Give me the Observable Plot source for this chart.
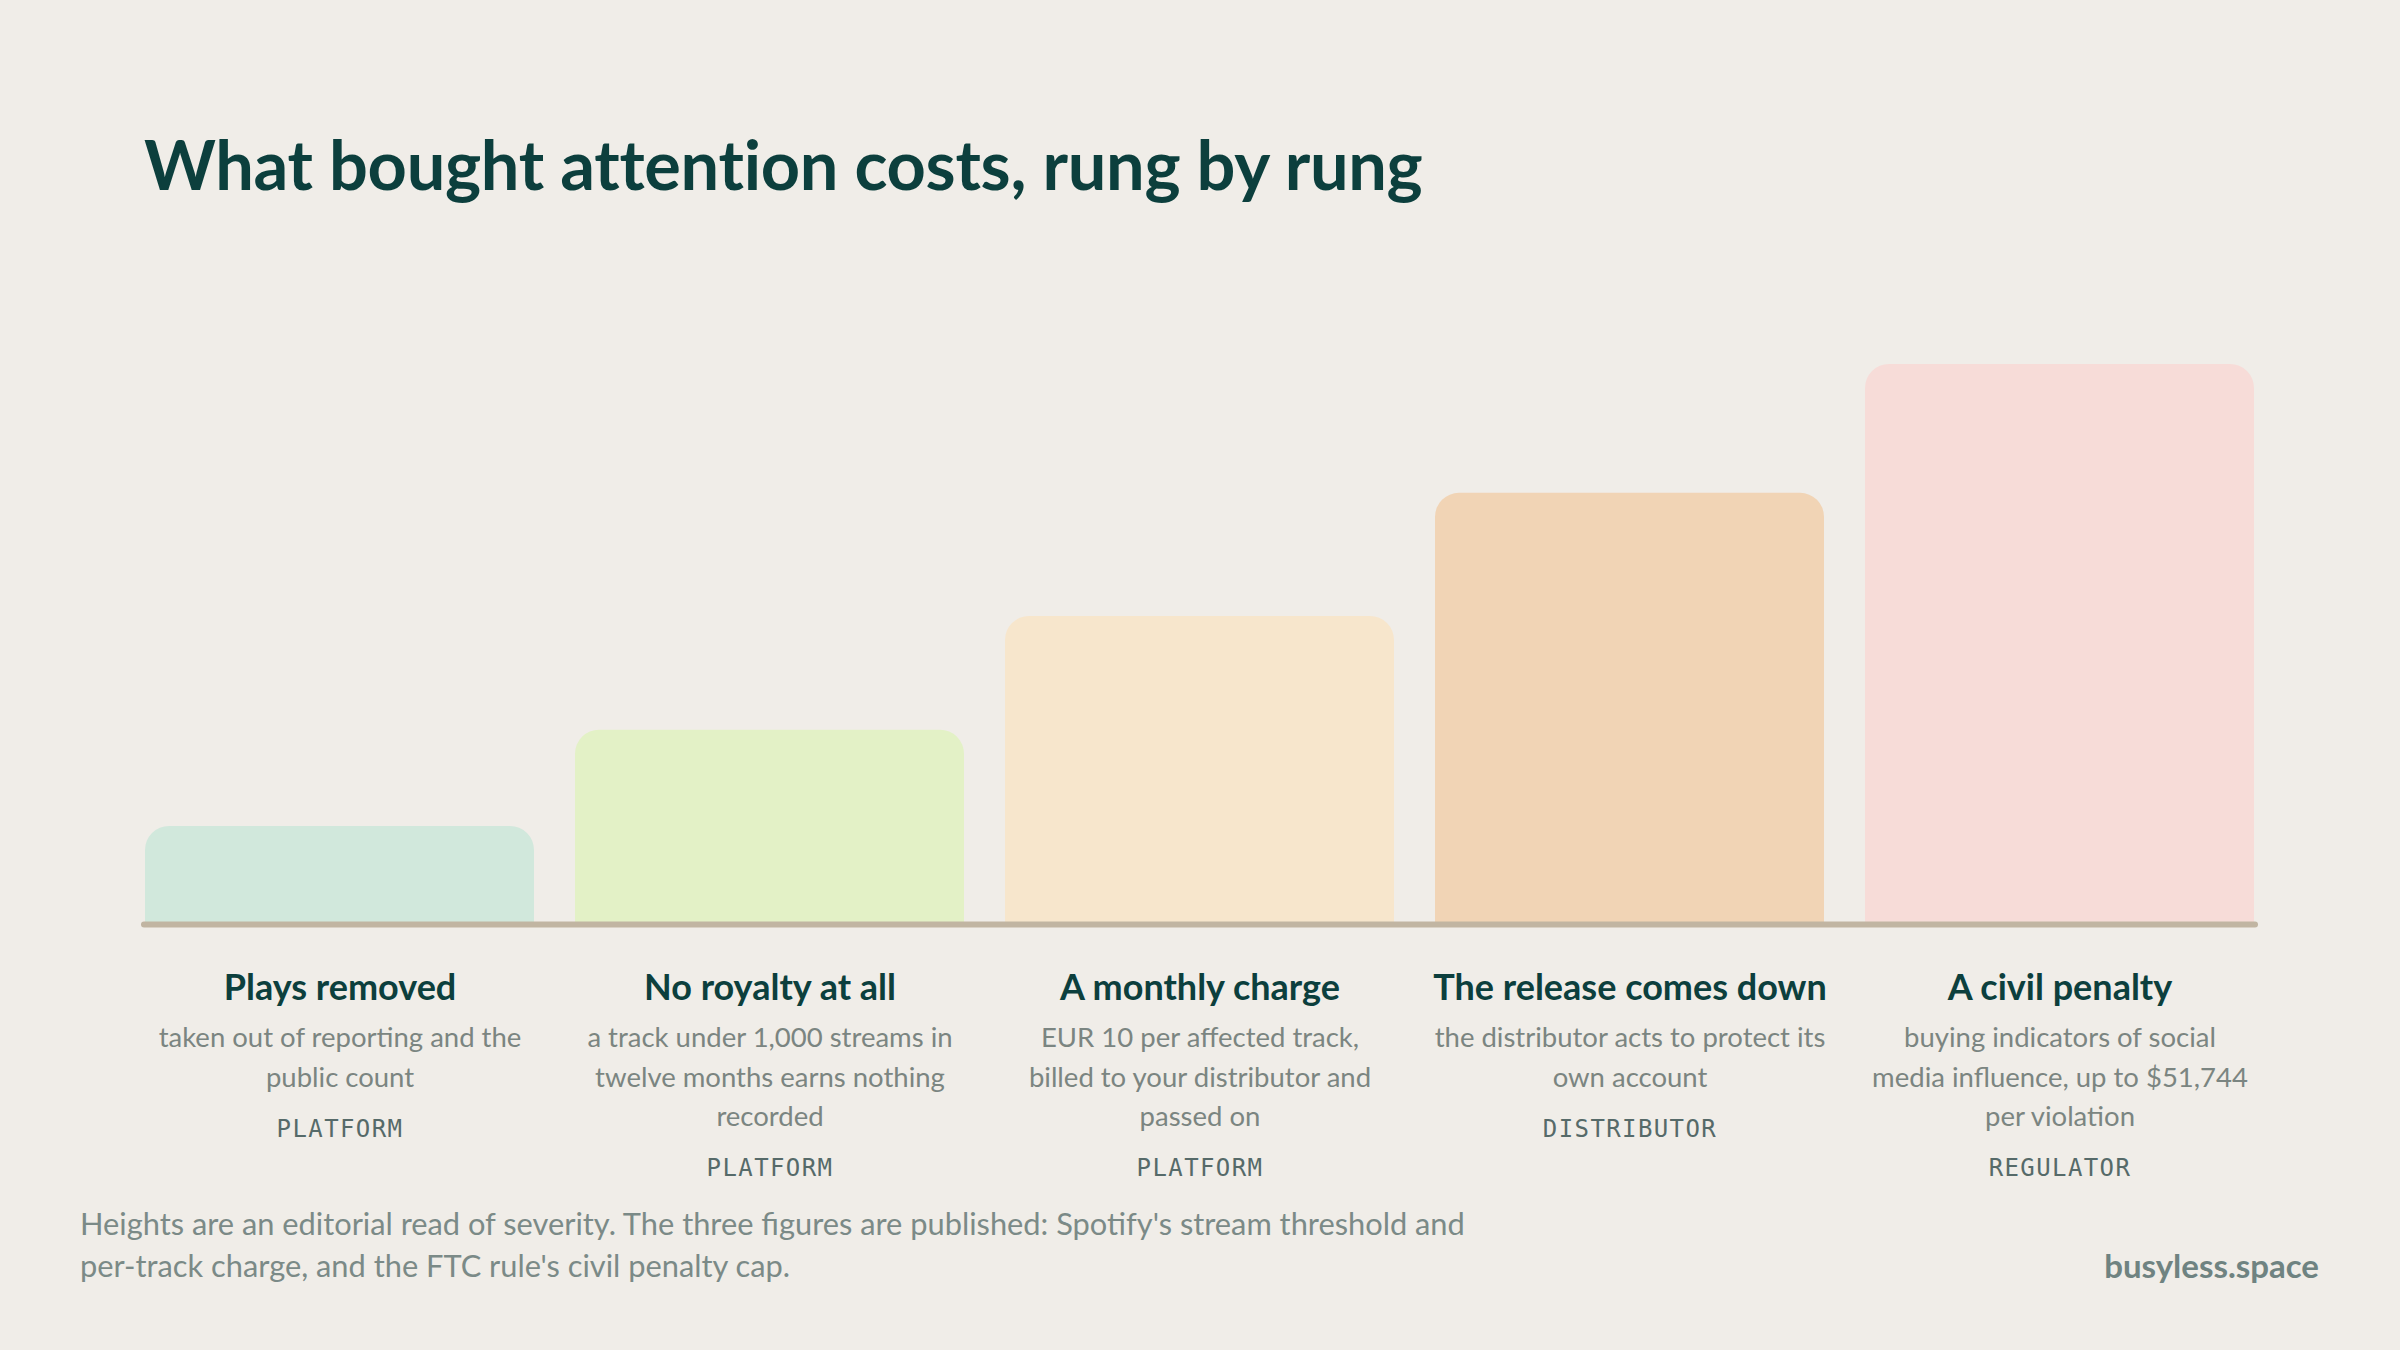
<!DOCTYPE html>
<html>
<head>
<meta charset="utf-8">
<script src="https://cdn.jsdelivr.net/npm/d3@7"></script>
<script src="https://cdn.jsdelivr.net/npm/@observablehq/plot@0.6"></script>
<style>
  html, body { margin: 0; padding: 0; background: #f0ede8; }
  body { width: 2400px; height: 1350px; position: relative; overflow: hidden; font-family: Lato, "Noto Sans", sans-serif; }
  #title { position: absolute; left: 144px; top: 122px; margin: 0; font-size: 68.5px; line-height: 84px; font-weight: 700; color: #0c3f3d; letter-spacing: -0.3px; }
  #chart { position: absolute; left: 0; top: 230px; }
  #note { position: absolute; left: 80px; top: 1203px; font-size: 30.8px; line-height: 42px; color: #7b8a87; }
  #brand { position: absolute; right: 81px; top: 1244px; font-size: 33px; line-height: 42px; font-weight: 700; color: #6f8381; }
  g[font-family*="Mono"] text { letter-spacing: 1.4px; }
</style>
</head>
<body>
<h1 id="title">What bought attention costs, rung by rung</h1>
<div id="chart"></div>
<div id="note">Heights are an editorial read of severity. The three figures are published: Spotify's stream threshold and<br>per-track charge, and the FTC rule's civil penalty cap.</div>
<div id="brand">busyless.space</div>
<script>
const labels = ["Plays removed", "No royalty at all", "A monthly charge", "The release comes down", "A civil penalty"];
const severity = [17.5, 34.7, 55, 77, 100];
const details = [
  "taken out of reporting and the\npublic count",
  "a track under 1,000 streams in\ntwelve months earns nothing\nrecorded",
  "EUR 10 per affected track,\nbilled to your distributor and\npassed on",
  "the distributor acts to protect its\nown account",
  "buying indicators of social\nmedia influence, up to $51,744\nper violation"
];
const actors = ["PLATFORM", "PLATFORM", "PLATFORM", "DISTRIBUTOR", "REGULATOR"];
const colors = ["#d1e8dc", "#e3f1c6", "#f7e6cc", "#f1d4b5", "#f7dcd8"];

const data = labels.map((label, i) => ({
  label, value: severity[i], detail: details[i], actor: actors[i],
  lines: details[i].split("\n").length
}));

const plot = Plot.plot({
  width: 2400,
  height: 960,
  marginLeft: 144,
  marginRight: 145,
  marginTop: 134,
  marginBottom: 266,
  style: { background: "transparent", overflow: "visible" },
  x: { domain: labels, paddingInner: 0.095, paddingOuter: 0, axis: null },
  y: { domain: [0, 100], axis: null },
  color: { domain: labels, range: colors },
  marks: [
    Plot.barY(data, { x: "label", y: "value", fill: "label", rx: 24 }),
    Plot.barY(data, { x: "label", y1: 0, y2: d => d.value / 2, fill: "label" }),
    Plot.ruleY([0], { stroke: "#c1b5a2", strokeWidth: 6, strokeLinecap: "round" }),
    Plot.text(data, { x: "label", frameAnchor: "bottom", text: "label", dy: 75, fontSize: 36, fontWeight: 700, fill: "#0c3f3d", fontFamily: "Lato, sans-serif" }),
    Plot.text(data, { x: "label", frameAnchor: "bottom", text: "detail", dy: 95, lineAnchor: "top", lineHeight: 1.43, fontSize: 27.5, fill: "#7b8581", fontFamily: "Lato, sans-serif" }),
    Plot.text(data.filter(d => d.lines === 2), { x: "label", frameAnchor: "bottom", text: "actor", dy: 212, fontSize: 24, fill: "#566a69", fontFamily: "DejaVu Sans Mono, monospace" }),
    Plot.text(data.filter(d => d.lines === 3), { x: "label", frameAnchor: "bottom", text: "actor", dy: 251, fontSize: 24, fill: "#566a69", fontFamily: "DejaVu Sans Mono, monospace" })
  ]
});
document.getElementById("chart").appendChild(plot);
</script>
</body>
</html>
